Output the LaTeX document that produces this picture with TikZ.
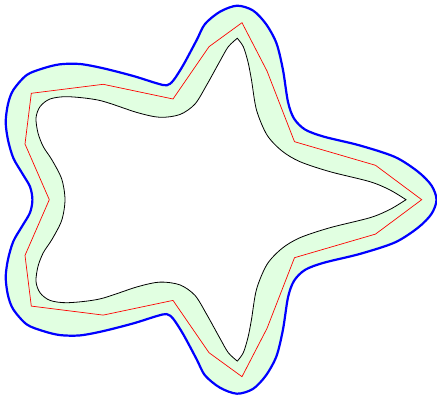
\documentclass[tikz,border=0pt]{standalone}
\begin{document}
\begin{tikzpicture}[x=1pt,y=1pt,
  outerline/.style={draw=blue,line width=2.2pt,fill=bandgreen},
  innerline/.style={draw=black,line width=0.8pt,fill=white},
  approxline/.style={draw=red,line width=0.7pt,line join=miter}]
\definecolor{bandgreen}{RGB}{225,255,225}
\useasboundingbox (0,-196.3) rectangle (437,199.7);
% outer offset curve
\path[outerline] plot[smooth cycle] coordinates {
(32.4,0) (30,13) (22,26.7) (13.3,41.7) (8,59.7) (5.7,77.7) (8,95.7) (13.3,109.7)
(26.7,124.7) (43.3,131.4) (60,135.4) (80,135.7) (103.3,131.4) (133.3,123.7)
(156.7,116.4) (166.7,114.4) (173.3,119.2) (183.3,134.7) (196.7,159.7) (205,175.7)
(220,188) (237,194) (253,189.2) (266,175.7) (276.5,156.4) (283,129.7) (288,97.7)
(294,81.2) (305,70.2) (324,63) (360,54.2) (395,42.7) (418,28) (431.5,14.2) (436.5,0)
(431.5,-14.2) (418,-28) (395,-42.7) (360,-54.2) (324,-63) (305,-70.2) (294,-81.2)
(288,-97.7) (283,-129.7) (276.5,-156.4) (266,-175.7) (253,-189.2) (237,-194)
(220,-188) (205,-175.7) (196.7,-159.7) (183.3,-134.7) (173.3,-119.2) (166.7,-114.4)
(156.7,-116.4) (133.3,-123.7) (103.3,-131.4) (80,-135.7) (60,-135.4) (43.3,-131.4)
(26.7,-124.7) (13.3,-109.7) (8,-95.7) (5.7,-77.7) (8,-59.7) (13.3,-41.7) (22,-26.7)
(30,-13)};
% inner original curve
\path[innerline] plot[smooth] coordinates {
(406,0) (390,9.7) (370,18) (330,28) (300,38) (282,48.7) (267,64.7) (256.5,89.7)
(251.5,119.7) (248,137.7) (243.3,153) (237.3,161.4)}
-- plot[smooth] coordinates {
(237.3,161.4) (228.3,153) (220,138.7) (206.7,114.7) (195,95.7) (180,85.2) (160,82.4)
(137,87.2) (100,99.2) (68,103) (50,100.7) (40,93) (36,81.7) (38,66.7) (43.3,53)
(52,39.7) (61.7,20.7) (65,0) (61.7,-20.7) (52,-39.7) (43.3,-53) (38,-66.7) (36,-81.7)
(40,-93) (50,-100.7) (68,-103) (100,-99.2) (137,-87.2) (160,-82.4) (180,-85.2)
(195,-95.7) (206.7,-114.7) (220,-138.7) (228.3,-153) (237.3,-161.4)}
-- plot[smooth] coordinates {
(237.3,-161.4) (243.3,-153) (248,-137.7) (251.5,-119.7) (256.5,-89.7) (267,-64.7)
(282,-48.7) (300,-38) (330,-28) (370,-18) (390,-9.7) (406,0)} -- cycle;
% polygonal approximation
\draw[approxline] (49.3,0) -- (25,55.7) -- (31.3,106.4) -- (103.2,115.4) -- (173,100.7)
-- (209,153) -- (242,177) -- (267,128.7) -- (294.5,58) -- (375.5,34.4) -- (421.7,0)
-- (375.5,-34.4) -- (294.5,-58) -- (267,-128.7) -- (242,-177) -- (209,-153)
-- (173,-100.7) -- (103.2,-115.4) -- (31.3,-106.4) -- (25,-55.7) -- cycle;
\end{tikzpicture}
\end{document}
